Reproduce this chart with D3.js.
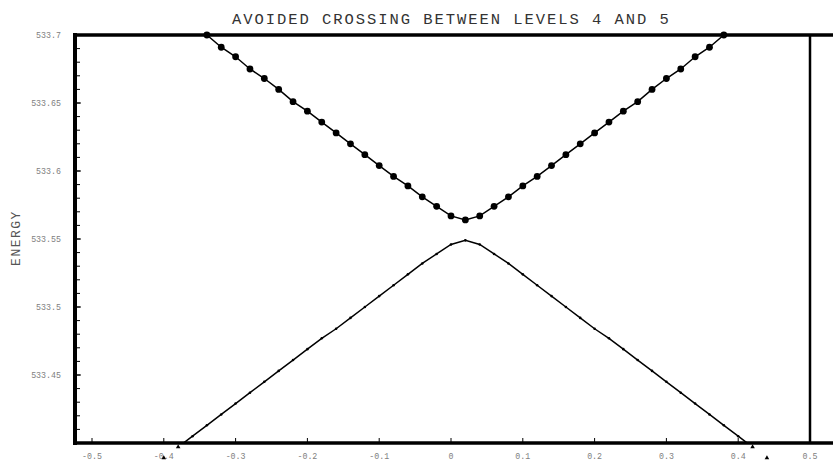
<!DOCTYPE html>
<html>
<head>
<meta charset="utf-8">
<script src="https://cdn.jsdelivr.net/npm/d3@7"></script>
<style>
  html, body { margin: 0; padding: 0; background: #fff; }
  svg { display: block; }
</style>
</head>
<body>
<svg id="chart" width="833" height="465"></svg>
<script>
// ---------- data ----------
const title = "AVOIDED CROSSING BETWEEN LEVELS 4 AND 5";
const yTitle = "ENERGY";

const upperX = [-0.34,-0.32,-0.30,-0.28,-0.26,-0.24,-0.22,-0.20,-0.18,-0.16,-0.14,-0.12,-0.10,-0.08,-0.06,-0.04,-0.02,0.00,
                 0.02,0.04,0.06,0.08,0.10,0.12,0.14,0.16,0.18,0.20,0.22,0.24,0.26,0.28,0.30,0.32,0.34,0.36,0.38];
const upperE = [533.700,533.691,533.684,533.675,533.668,533.660,533.651,533.644,533.636,533.628,533.620,533.612,533.604,533.596,533.589,533.581,533.574,533.567,
                533.564,533.567,533.574,533.581,533.589,533.596,533.604,533.612,533.620,533.628,533.636,533.644,533.651,533.660,533.668,533.675,533.684,533.691,533.700];

const lowerX = [-0.38,-0.36,-0.34,-0.32,-0.30,-0.28,-0.26,-0.24,-0.22,-0.20,-0.18,-0.16,-0.14,-0.12,-0.10,-0.08,-0.06,-0.04,-0.02,0.00,
                 0.02,0.04,0.06,0.08,0.10,0.12,0.14,0.16,0.18,0.20,0.22,0.24,0.26,0.28,0.30,0.32,0.34,0.36,0.38,0.40,0.42];
const lowerE = [533.397,533.405,533.413,533.421,533.429,533.437,533.445,533.453,533.461,533.469,533.477,533.484,533.492,533.500,533.508,533.516,533.524,533.532,533.539,533.546,
                533.549,533.546,533.539,533.532,533.524,533.516,533.508,533.500,533.492,533.484,533.477,533.469,533.461,533.453,533.445,533.437,533.429,533.421,533.413,533.405,533.397];

// points falling below the plotted range (drawn as small triangles under the axis)
const offScaleX = [-0.38, -0.40, 0.42, 0.44];

const xTicks = [-0.5,-0.4,-0.3,-0.2,-0.1,0,0.1,0.2,0.3,0.4,0.5];
const xTickLabels = ["-0.5","-0.4","-0.3","-0.2","-0.1","0","0.1","0.2","0.3","0.4","0.5"];
const yTicks = [533.45,533.5,533.55,533.6,533.65,533.7];
const yTickLabels = ["533.45","533.5","533.55","533.6","533.65","533.7"];
const yMinorTicks = d3.range(41, 70).map(i => 533 + i / 100);

// ---------- layout ----------
const svg = d3.select("#chart");
const pLeft = 75, pTop = 35, pBottom = 443, rightLine = 810, rightEdge = 833;

const x = d3.scaleLinear().domain([-0.5, 0.5]).range([92, 810]);
const y = d3.scaleLinear().domain([533.4, 533.7]).range([pBottom, pTop]);

const mono = "'Liberation Mono', 'DejaVu Sans Mono', monospace";

// clip
svg.append("defs").append("clipPath").attr("id", "plotclip")
  .append("rect").attr("x", pLeft).attr("y", pTop).attr("width", rightEdge - pLeft).attr("height", pBottom - pTop);

// title
svg.append("text")
  .attr("x", 232).attr("y", 23.5)
  .attr("font-family", mono).attr("font-size", 15.5)
  .attr("letter-spacing", 1.95)
  .attr("fill", "#333")
  .text(title);

// y title
svg.append("text")
  .attr("transform", "translate(20,238) rotate(-90)")
  .attr("text-anchor", "middle")
  .attr("font-family", mono).attr("font-size", 13)
  .attr("letter-spacing", 1.5)
  .attr("fill", "#555")
  .text(yTitle);

// ticks
const g = svg.append("g");
g.selectAll(".xt").data(xTicks).enter().append("line")
  .attr("x1", d => x(d)).attr("x2", d => x(d))
  .attr("y1", pBottom).attr("y2", pBottom - 5)
  .attr("stroke", "#000").attr("stroke-width", 1);
g.selectAll(".xl").data(xTicks).enter().append("text")
  .attr("x", d => x(d)).attr("y", 459)
  .attr("text-anchor", "middle")
  .attr("font-family", mono).attr("font-size", 8.3)
  .attr("fill", "#808080")
  .text((d, i) => xTickLabels[i]);

g.selectAll(".ymin").data(yMinorTicks).enter().append("line")
  .attr("x1", pLeft).attr("x2", pLeft + 5)
  .attr("y1", d => y(d)).attr("y2", d => y(d))
  .attr("stroke", "#000").attr("stroke-width", 1);
g.selectAll(".yt").data(yTicks).enter().append("line")
  .attr("x1", pLeft).attr("x2", pLeft + 6)
  .attr("y1", d => y(d)).attr("y2", d => y(d))
  .attr("stroke", "#000").attr("stroke-width", 1);
g.selectAll(".yl").data(yTicks).enter().append("text")
  .attr("x", 61).attr("y", d => y(d) + 3)
  .attr("text-anchor", "end")
  .attr("font-family", mono).attr("font-size", 8.3)
  .attr("fill", "#808080")
  .text((d, i) => yTickLabels[i]);

// curves
const line = d3.line().x(d => x(d[0])).y(d => y(d[1]));
const upper = upperX.map((v, i) => [v, upperE[i]]);
const lower = lowerX.map((v, i) => [v, lowerE[i]]);

const plot = svg.append("g").attr("clip-path", "url(#plotclip)");
plot.append("path").datum(lower).attr("d", line)
  .attr("fill", "none").attr("stroke", "#000").attr("stroke-width", 1.5);
plot.selectAll(".lm").data(lower).enter().append("circle")
  .attr("cx", d => x(d[0])).attr("cy", d => y(d[1])).attr("r", 1.3).attr("fill", "#000");
plot.append("path").datum(upper).attr("d", line)
  .attr("fill", "none").attr("stroke", "#000").attr("stroke-width", 1.5);

// frame
svg.append("line").attr("x1", rightLine).attr("x2", rightLine).attr("y1", pTop).attr("y2", pBottom)
  .attr("stroke", "#000").attr("stroke-width", 2.5);
svg.append("line").attr("x1", pLeft - 2).attr("x2", rightEdge).attr("y1", pTop).attr("y2", pTop)
  .attr("stroke", "#000").attr("stroke-width", 3.5);
svg.append("line").attr("x1", pLeft - 2).attr("x2", rightEdge).attr("y1", pBottom).attr("y2", pBottom)
  .attr("stroke", "#000").attr("stroke-width", 3.5);
svg.append("line").attr("x1", pLeft).attr("x2", pLeft).attr("y1", pTop - 2).attr("y2", pBottom + 2)
  .attr("stroke", "#000").attr("stroke-width", 4);

// upper dots (drawn on top of frame, as in the reference)
svg.selectAll(".um").data(upper).enter().append("circle")
  .attr("cx", d => x(d[0])).attr("cy", d => y(d[1])).attr("r", 3.4).attr("fill", "#000");

// off-scale markers
const tri = d3.symbol().type(d3.symbolTriangle).size(9);
svg.selectAll(".off").data(offScaleX).enter().append("path")
  .attr("d", tri)
  .attr("transform", (d, i) => `translate(${x(d)},${pBottom + 4 + (i % 2) * 11})`)
  .attr("fill", "#000");
</script>
</body>
</html>
